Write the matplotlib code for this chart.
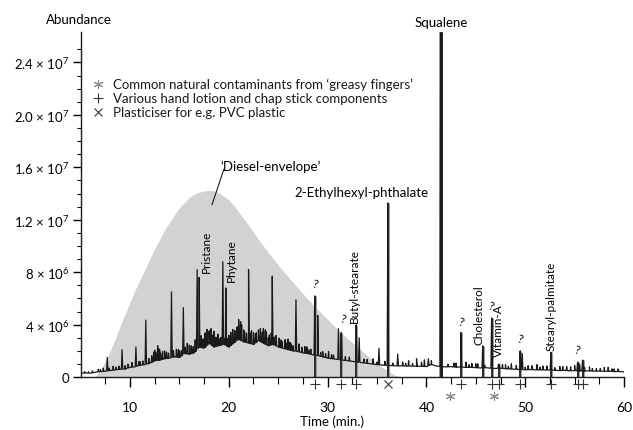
import numpy as np
import matplotlib
matplotlib.use("Agg")
import matplotlib.pyplot as plt

plt.rcParams['font.family'] = ['Lato', 'DejaVu Sans']
plt.rcParams['mathtext.fontset'] = 'custom'
plt.rcParams['mathtext.rm'] = 'Lato'
plt.rcParams['mathtext.default'] = 'regular'

M = 1e6

# baseline of the trace, every 0.5 min (x 1e6)
base_t = np.arange(5.0, 60.01, 0.5)
base_v = [0.30, 0.32, 0.30, 0.38, 0.42, 0.45, 0.50, 0.55, 0.60, 0.62,
          0.75, 0.78, 0.90, 0.95, 1.05, 1.25, 1.30, 1.40, 1.45, 1.55,
          1.50, 1.80, 1.75, 1.85, 2.30, 2.20, 2.60, 2.30, 2.40, 2.50,
          2.30, 2.60, 2.90, 2.70, 2.60, 2.50, 2.80, 2.60, 2.40, 2.50,
          2.30, 2.20, 2.10, 2.00, 1.95, 1.85, 1.80, 1.70, 1.65, 1.55,
          1.45, 1.40, 1.35, 1.30, 1.25, 1.20, 1.15, 1.10, 1.05, 1.00,
          0.95, 0.92, 0.90, 0.88, 0.85, 0.86, 0.84, 0.85, 0.82, 0.84,
          0.80, 0.95, 0.85, 0.80, 0.78, 0.80, 0.76, 0.78, 0.74, 0.75,
          0.72, 0.70, 0.72, 0.68, 0.66, 0.68, 0.64, 0.62, 0.60, 0.58,
          0.56, 0.58, 0.55, 0.56, 0.54, 0.55, 0.52, 0.50, 0.52, 0.48,
          0.50, 0.47, 0.46, 0.48, 0.45, 0.46, 0.44, 0.45, 0.42, 0.43,
          0.40]

# main peaks: retention time (min) and apex abundance (x 1e6)
peak_t = [7.7, 9.2, 10.6, 11.6, 12.8, 14.2, 15.4, 16.8, 17.0, 18.2,
          19.4, 19.7, 20.8, 21.0, 22.0, 23.5, 24.4, 26.8, 28.7, 29.0,
          31.1, 31.4, 32.9, 33.2, 35.2, 36.1, 37.1, 39.0, 40.2, 41.45,
          43.5, 45.7, 46.6, 47.3, 49.5, 49.7, 52.6, 55.3, 55.8]
peak_top = [1.5, 2.1, 2.3, 4.35, 2.4, 6.5, 5.3, 8.2, 7.6, 3.7,
            8.8, 6.8, 3.8, 4.4, 8.2, 3.7, 7.7, 5.9, 6.2, 4.7,
            3.7, 3.4, 4.0, 3.0, 2.2, 13.3, 1.75, 1.4, 1.4, 26.3,
            3.4, 2.4, 4.5, 1.0, 2.0, 1.8, 1.9, 1.15, 1.3]

# small noise spikes: time and height above baseline (x 1e6)
noise_t = [5.4, 5.8, 6.2, 6.8, 7.0, 7.3, 7.9, 8.3, 8.6, 8.9, 9.5, 9.8, 10.2,
           10.9, 11.0, 11.3, 11.9, 12.2, 12.4, 12.5, 12.6, 12.9, 13.0, 13.1,
           13.3, 13.5, 13.7, 13.9, 14.4, 14.7, 14.9, 15.0, 15.2, 15.6, 15.8,
           16.0, 16.2, 16.4, 16.6, 17.2, 17.4, 17.6, 17.8, 18.0, 18.1, 18.3,
           18.5, 18.7, 18.9, 19.1, 19.2, 19.6, 19.9, 20.0, 20.2, 20.4, 20.6,
           20.9, 21.2, 21.3, 21.5, 21.6, 21.8, 22.2, 22.3, 22.5, 22.7, 22.8,
           23.0, 23.2, 23.4, 23.7, 23.8, 24.0, 24.1, 24.3, 24.6, 24.8, 25.1,
           25.3, 25.4, 25.7, 25.9, 26.0, 26.2, 26.3, 26.5, 27.1, 27.4, 27.7,
           27.9, 28.1, 28.3, 29.3, 29.5, 29.8, 30.1, 30.4, 30.6, 31.8, 32.2,
           33.7, 34.0, 34.6, 35.0, 35.8, 36.6, 37.6, 37.9, 38.2, 38.6, 39.5,
           39.8, 40.5, 42.2, 42.8, 43.0, 44.0, 44.3, 44.6, 45.0, 45.2, 45.9,
           47.7, 48.0, 48.3, 48.6, 49.1, 50.0, 50.3, 50.7, 51.2, 51.5, 51.8,
           52.2, 53.0, 53.5, 53.8, 54.2, 54.6, 55.0, 55.5, 56.0, 56.5, 56.8,
           57.2, 57.6, 58.0, 58.4, 58.8, 59.0, 59.4]
noise_h = [0.1, 0.1, 0.15, 0.2, 0.15, 0.25, 0.2, 0.3, 0.2, 0.25, 0.25, 0.3, 0.35,
           0.3, 0.3, 0.3, 0.4, 0.5, 0.7, 0.8, 0.6, 0.9, 0.8, 0.5,
           0.6, 0.6, 0.5, 0.4, 0.5, 0.6, 0.6, 0.5, 0.4, 0.5, 0.8,
           0.7, 0.6, 0.5, 0.9, 0.9, 0.7, 1.1, 1.2, 0.9, 1.0, 0.8,
           1.2, 0.7, 0.9, 0.5, 0.6, 0.5, 0.6, 0.9, 1.0, 1.1, 0.9,
           1.0, 1.4, 1.2, 0.9, 0.8, 0.7, 0.8, 1.0, 0.9, 0.7, 0.7,
           0.8, 1.0, 0.8, 1.1, 1.0, 0.6, 0.8, 0.9, 0.6, 0.8, 0.7,
           0.6, 0.5, 0.7, 0.5, 0.8, 0.6, 0.5, 0.4, 0.6, 0.4, 0.5,
           0.5, 0.3, 0.4, 0.3, 0.4, 0.3, 0.5, 0.3, 0.3, 0.3, 0.3,
           0.3, 0.3, 0.4, 0.2, 0.3, 0.2, 0.3, 0.2, 0.4, 0.2, 0.3,
           0.5, 0.3, 0.2, 0.3, 0.3, 0.4, 0.2, 0.3, 0.3, 0.3, 0.2,
           0.3, 0.3, 0.2, 0.4, 0.3, 0.2, 0.3, 0.3, 0.4, 0.2, 0.3,
           0.3, 0.2, 0.3, 0.3, 0.3, 0.3, 0.4, 0.5, 0.3, 0.3, 0.2,
           0.2, 0.2, 0.3, 0.3, 0.2, 0.2, 0.2]

# peaks drawn as bars down to the axis
bar_t = [28.7, 31.4, 32.9, 36.1, 41.45, 43.5, 45.7, 46.6, 47.3, 49.5, 52.6, 55.3, 55.8]

# 'diesel envelope' outline (x 1e6)
env_t = [6.4, 7.0, 7.5, 8.0, 8.5, 9.0, 9.5, 10.0, 10.5, 11.0, 11.5, 12.0, 12.5,
         13.0, 13.5, 14.0, 14.5, 15.0, 15.5, 16.0, 16.5, 17.0, 17.5, 18.0, 18.5,
         19.0, 19.5, 20.0, 20.5, 21.0, 21.5, 22.0, 22.5, 23.0, 23.5, 24.0, 25.0,
         26.0, 27.0, 28.0, 29.0, 30.0, 31.0, 32.0, 33.0, 34.0, 35.0, 36.0, 36.8, 37.3]
env_v = [0.0, 0.5, 1.2, 2.0, 2.9, 3.9, 4.8, 5.7, 6.6, 7.4, 8.2, 9.0, 9.8,
         10.5, 11.2, 11.8, 12.4, 12.9, 13.3, 13.7, 13.95, 14.1, 14.2, 14.25, 14.2,
         14.05, 13.8, 13.5, 13.1, 12.6, 12.1, 11.6, 11.05, 10.5, 10.0, 9.5, 8.55,
         7.65, 6.8, 5.95, 5.15, 4.4, 3.65, 2.95, 2.3, 1.65, 1.05, 0.5, 0.15, 0.0]

# compound annotations
plus_t = [28.7, 31.4, 32.9, 43.5, 46.6, 47.3, 49.5, 52.6, 55.3, 55.8]
cross_t = [36.1]
star_t = [42.4, 46.8]
vert_labels = [('Pristane', 17.69, 8.0), ('Phytane', 20.22, 7.3),
               ('Butyl-stearate', 32.75, 4.2), ('Cholesterol', 45.35, 2.5),
               ('Vitamin-A', 47.3, 1.6), ('Stearyl-palmitate', 52.65, 2.1)]
q_marks = [(28.7, 6.7), (31.6, 4.0), (43.5, 3.8), (46.55, 5.0), (49.45, 2.5), (55.25, 1.7)]

fig = plt.figure(figsize=(6.33, 4.31), dpi=100)
ax = fig.add_axes([0.1273, 0.1227, 0.8585, 0.80])

ax.fill_between(env_t, np.array(env_v) * M, 0, color='#d2d2d2', lw=0, zorder=1)

# build the trace: baseline plus triangular spikes
w = 0.07
pts = list(zip(base_t, base_v))
for t, top in zip(peak_t, peak_top):
    pts += [(t - w, np.interp(t - w, base_t, base_v)), (t, top),
            (t + w, np.interp(t + w, base_t, base_v))]
for t, h in zip(noise_t, noise_h):
    b = np.interp(t, base_t, base_v)
    pts += [(t - 0.05, b), (t, b + h), (t + 0.05, b)]
pts.sort(key=lambda p: p[0])
tr_t = [p[0] for p in pts]
tr_v = [p[1] * M for p in pts]

tops = dict(zip(peak_t, peak_top))
for t in bar_t:
    lw = 2.0 if t == 41.45 else 1.2
    ax.vlines(t, 0, tops[t] * M, color='#9a9a9a', lw=lw + 0.9, zorder=2)
    ax.vlines(t, 0, tops[t] * M, color='#1a1a1a', lw=lw, zorder=3)
ax.plot(tr_t, tr_v, color='#1a1a1a', lw=0.9, zorder=4)

# markers under the axis
ax.plot(plus_t, [-0.55 * M] * len(plus_t), ls='none', marker='+', ms=7, mew=0.8,
        color='#333333', clip_on=False)
ax.plot(cross_t, [-0.55 * M] * len(cross_t), ls='none', marker='x', ms=5.5, mew=0.8,
        color='#333333', clip_on=False)
ax.plot(star_t, [-1.45 * M] * len(star_t), ls='none', marker=(6, 2, 0), ms=6.5, mew=0.8,
        color='#8a8a8a', clip_on=False)

# legend block
leg_y = [22.37, 21.3, 20.2]
leg_txt = ['Common natural contaminants from \u2018greasy fingers\u2019',
           'Various hand lotion and chap stick components',
           'Plasticiser for e.g. PVC plastic']
ax.plot(6.76, leg_y[0] * M, marker=(6, 2, 0), ms=6.5, mew=0.8, color='#8a8a8a')
ax.plot(6.76, leg_y[1] * M, marker='+', ms=7, mew=0.8, color='#333333')
ax.plot(6.76, leg_y[2] * M, marker='x', ms=5.5, mew=0.8, color='#333333')
for y, s in zip(leg_y, leg_txt):
    ax.text(8.28, y * M, s, fontsize=9.5, va='center', ha='left', color='#1a1a1a')

# labels
ax.text(41.45, 27.1 * M, 'Squalene', fontsize=9.5, ha='center', va='center', clip_on=False)
ax.text(33.4, 14.13 * M, '2-Ethylhexyl-phthalate', fontsize=9.5, ha='center', va='center')
ax.text(19.1, 16.1 * M, '\u2018Diesel-envelope\u2019', fontsize=9.5, ha='left', va='center')
ax.plot([19.5, 18.3], [15.85 * M, 13.15 * M], color='#1a1a1a', lw=0.8)
for s, t, y in vert_labels:
    ax.text(t, y * M, s, fontsize=8.5, rotation=90, ha='center', va='bottom')
for t, y in q_marks:
    ax.text(t, y * M, '?', fontsize=8.5, ha='center', va='bottom', rotation=-15)

ax.set_xlim(5, 60)
ax.set_ylim(0, 26.3 * M)
ax.set_xticks([10, 20, 30, 40, 50, 60])
ax.set_xticks(np.arange(7.5, 60.1, 2.5), minor=True)
yt = [0, 4, 8, 12, 16, 20, 24]
yl = ['0', '4 \u00d7 10$^{6}$', '8 \u00d7 10$^{6}$', '1.2 \u00d7 10$^{7}$',
      '1.6 \u00d7 10$^{7}$', '2.0 \u00d7 10$^{7}$', '2.4 \u00d7 10$^{7}$']
ax.set_yticks([v * M for v in yt])
ax.set_yticklabels(yl)
ax.set_yticks(np.arange(1, 26, 1) * M, minor=True)

for s in ['top', 'right']:
    ax.spines[s].set_visible(False)
for s in ['left', 'bottom']:
    ax.spines[s].set_linewidth(1.0)
    ax.spines[s].set_color('#1a1a1a')
ax.tick_params(axis='x', which='major', length=7.5, width=1.0, pad=10, labelsize=10)
ax.tick_params(axis='x', which='minor', length=5, width=0.8)
ax.tick_params(axis='y', which='major', length=6, width=1.0, pad=2, labelsize=9.5)
ax.tick_params(axis='y', which='minor', length=3, width=0.8)

fig.text(79 / 633, 1 - 20 / 431, 'Abundance', fontsize=9.5, ha='center', va='center')
fig.text(332 / 633, 1 - 422 / 431, 'Time (min.)', fontsize=9.5, ha='center', va='center')

fig.savefig('out.png', dpi=100)
